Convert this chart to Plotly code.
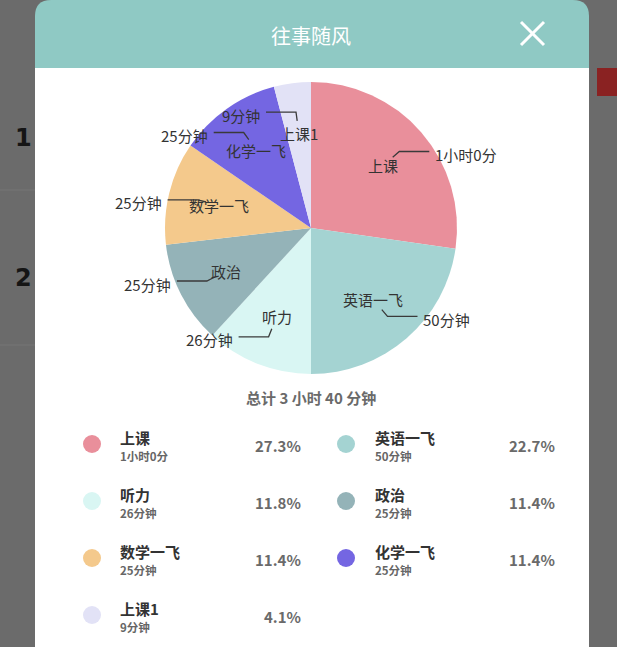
import math
import plotly.graph_objects as go

# ---------------- data ----------------
categories = ["上课", "英语一飞", "听力", "政治", "数学一飞", "化学一飞", "上课1"]
minutes = [60, 50, 26, 25, 25, 25, 9]
colors = ["#e98f9b", "#a4d3d2", "#d9f6f3", "#94b3b8", "#f4c98c", "#7466e2", "#e2e2f6"]
title_text = "往事随风"

W, H = 617, 647
FONT = "Noto Sans CJK SC, Noto Sans, sans-serif"


def fmt(m):
    if m >= 60:
        return f"{m // 60}小时{m % 60}分"
    return f"{m}分钟"


total = sum(minutes)
total_text = f"总计 {total // 60} 小时 {total % 60} 分钟"
pcts = [f"{v / total * 100:.1f}%" for v in minutes]

# ---------------- layout geometry ----------------
cx, cy, R = 311, 228, 146

fig = go.Figure()

fig.add_trace(go.Pie(
    labels=categories, values=minutes, sort=False, direction="clockwise",
    rotation=0, marker=dict(colors=colors, line=dict(width=0)),
    textinfo="none", hoverinfo="label+value", showlegend=False,
    domain=dict(x=[(cx - R) / W, (cx + R) / W], y=[1 - (cy + R) / H, 1 - (cy - R) / H]),
))

annotations = []
shapes = []
line_paths = []
cum = 0
for name, v in zip(categories, minutes):
    mid = (cum + v / 2) / total * 2 * math.pi
    cum += v
    s, c = math.sin(mid), math.cos(mid)
    # name label inside slice
    annotations.append(dict(x=cx + 0.65 * R * s, y=cy - 0.65 * R * c, xref="x", yref="y",
                            text=name, showarrow=False,
                            font=dict(family=FONT, size=15, color="#333333")))
    # value line (radial stub + horizontal segment)
    x0, y0 = cx + 0.74 * R * s, cy - 0.74 * R * c
    x1, y1 = cx + 0.80 * R * s, cy - 0.80 * R * c
    side = 1 if s >= 0 else -1
    x2 = x1 + side * 30
    line_paths.append(f"M {x0:.1f},{y0:.1f} L {x1:.1f},{y1:.1f} L {x2:.1f},{y1:.1f}")
    annotations.append(dict(x=x2 + side * 4, y=y1 + 3, xref="x", yref="y",
                            text=fmt(v), showarrow=False,
                            xanchor="left" if side > 0 else "right",
                            font=dict(family=FONT, size=15, color="#333333")))

# ---------------- custom legend ----------------
dot_x = [92, 346]
name_x = [118, 373]
pct_x = [303, 557]
dx_, dy_, dc = [], [], []
for i, (name, v, col, p) in enumerate(zip(categories, minutes, colors, pcts)):
    row, colm = divmod(i, 2)
    yn = 437 + 57 * row
    dx_.append(dot_x[colm]); dy_.append(yn + 7); dc.append(col)
    annotations.append(dict(x=name_x[colm], y=yn, xref="x", yref="y", text=f"<b>{name}</b>",
                            showarrow=False, xanchor="left",
                            font=dict(family=FONT, size=15, color="#333333")))
    annotations.append(dict(x=name_x[colm], y=yn + 19, xref="x", yref="y", text=f"<b>{fmt(v)}</b>",
                            showarrow=False, xanchor="left",
                            font=dict(family=FONT, size=11.5, color="#666666")))
    annotations.append(dict(x=pct_x[colm], y=yn + 8, xref="x", yref="y", text=f"<b>{p}</b>",
                            showarrow=False, xanchor="right",
                            font=dict(family=FONT, size=15, color="#6a6a6a")))

fig.add_trace(go.Scatter(x=dx_, y=dy_, mode="markers",
                         marker=dict(size=18, color=dc, line=dict(width=0)),
                         hoverinfo="skip", showlegend=False))

annotations.append(dict(x=cx, y=397, xref="x", yref="y", text=f"<b>{total_text}</b>",
                        showarrow=False, font=dict(family=FONT, size=15, color="#6a6a6a")))
annotations.append(dict(x=cx, y=35, xref="x", yref="y", text=title_text, showarrow=False,
                        font=dict(family=FONT, size=20, color="#ffffff")))
# background page hints
annotations.append(dict(x=23, y=138, xref="x", yref="y", text="<b>1</b>", showarrow=False,
                        font=dict(family="DejaVu Sans", size=24, color="#151515")))
annotations.append(dict(x=23, y=278, xref="x", yref="y", text="<b>2</b>", showarrow=False,
                        font=dict(family="DejaVu Sans", size=24, color="#151515")))

# ---------------- shapes (panel) ----------------
rr = 16
L_, Rt, T_, B_ = 35, 589, 0, 68
header_path = (f"M {L_},{B_} L {L_},{T_ + rr} Q {L_},{T_} {L_ + rr},{T_} "
               f"L {Rt - rr},{T_} Q {Rt},{T_} {Rt},{T_ + rr} L {Rt},{B_} Z")
shapes += [
    dict(type="line", x0=0, x1=35, y0=190, y1=190, xref="x", yref="y", line=dict(color="#767676", width=1), layer="below"),
    dict(type="line", x0=0, x1=35, y0=345, y1=345, xref="x", yref="y", line=dict(color="#767676", width=1), layer="below"),
    dict(type="rect", x0=597, x1=617, y0=68, y1=96, xref="x", yref="y", fillcolor="#8a2222", line=dict(width=0), layer="below"),
    dict(type="rect", x0=L_, x1=Rt, y0=B_, y1=H + 5, xref="x", yref="y", fillcolor="#ffffff", line=dict(width=0), layer="below"),
    dict(type="path", path=header_path, xref="x", yref="y", fillcolor="#8fc9c4", line=dict(width=0), layer="below"),
    dict(type="line", x0=521, x1=544, y0=22, y1=45, xref="x", yref="y", line=dict(color="#ffffff", width=3)),
    dict(type="line", x0=521, x1=544, y0=45, y1=22, xref="x", yref="y", line=dict(color="#ffffff", width=3)),
]
for p in line_paths:
    shapes.append(dict(type="path", path=p, xref="x", yref="y", layer="above",
                       line=dict(color="#3a3a3a", width=1.3)))

fig.update_layout(
    width=W, height=H, margin=dict(l=0, r=0, t=0, b=0),
    paper_bgcolor="#6b6b6b", plot_bgcolor="rgba(0,0,0,0)",
    xaxis=dict(range=[0, W], visible=False, fixedrange=True, domain=[0, 1]),
    yaxis=dict(range=[H, 0], visible=False, fixedrange=True, domain=[0, 1]),
    shapes=shapes, annotations=annotations, showlegend=False,
    font=dict(family=FONT),
)

fig.write_html("out.html")
